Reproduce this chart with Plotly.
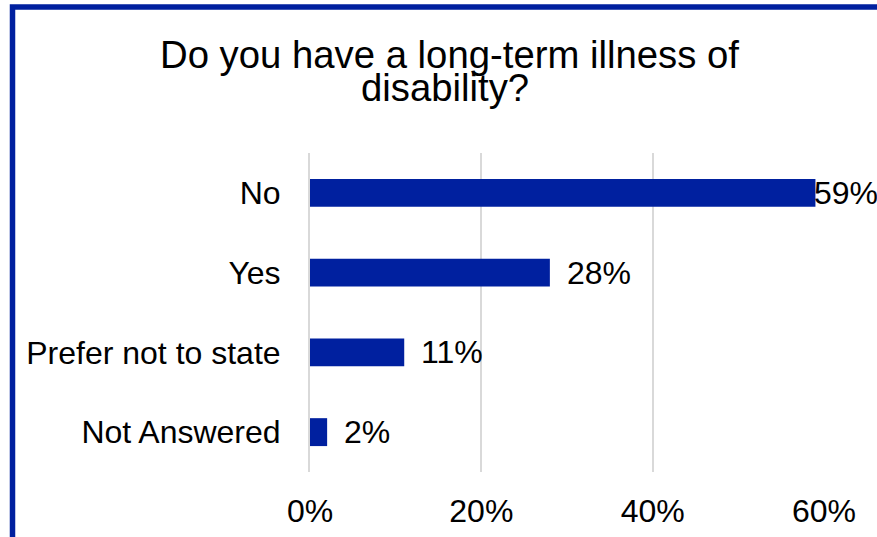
import plotly.graph_objects as go

categories = ["No", "Yes", "Prefer not to state", "Not Answered"]
values = [0.59, 0.28, 0.11, 0.02]
value_labels = ["59%", "28%", "11%", "2%"]
x_ticks = [0, 0.2, 0.4, 0.6]
x_tick_labels = ["0%", "20%", "40%", "60%"]
title_lines = ["Do you have a long-term illness of", "disability?"]

W, H = 877, 537
ML, MR, MT, MB = 310, 53, 153, 65
PW, PH = W - ML - MR, H - MT - MB
BLUE = "#00209F"
FONT = "Liberation Sans, Arial, sans-serif"

fig = go.Figure()
fig.add_trace(go.Bar(
    x=values, y=categories, orientation="h",
    marker=dict(color=BLUE, line=dict(width=0)),
    width=0.35, hoverinfo="skip",
))

for v, c, lab in zip(values, categories, value_labels):
    fig.add_annotation(x=v, y=c, xref="x", yref="y", text=lab, showarrow=False,
                       xanchor="left", yanchor="middle",
                       xshift=(-3 if v > 0.55 else 15),
                       font=dict(family=FONT, size=32, color="#000000"))

def px_x(p):
    return (p - ML) / PW

def px_y(p):
    return (H - MB - p) / PH

fig.add_annotation(x=px_x(449.5), y=px_y(54), xref="paper", yref="paper",
                   text=title_lines[0], showarrow=False, xanchor="center", yanchor="middle",
                   font=dict(family=FONT, size=38.3, color="#000000"))
fig.add_annotation(x=px_x(445), y=px_y(88), xref="paper", yref="paper",
                   text=title_lines[1], showarrow=False, xanchor="center", yanchor="middle",
                   font=dict(family=FONT, size=38.3, color="#000000"))

# chart border (partially outside visible window)
fig.add_shape(type="rect", xref="paper", yref="paper",
              x0=px_x(12.5), y0=px_y(700), x1=px_x(1200), y1=px_y(7),
              line=dict(color=BLUE, width=5.5), fillcolor="rgba(0,0,0,0)", layer="above")

fig.update_layout(
    width=W, height=H,
    margin=dict(l=ML, r=MR, t=MT, b=MB, autoexpand=False),
    paper_bgcolor="white", plot_bgcolor="white",
    showlegend=False,
    font=dict(family=FONT, size=32, color="#000000"),
)
fig.update_xaxes(range=[0, 0.6], tickvals=x_ticks, ticktext=x_tick_labels,
                 showgrid=True, gridcolor="#D9D9D9", gridwidth=2,
                 zeroline=False, showline=False, ticks="", ticklabelstandoff=17,
                 automargin=False,
                 tickfont=dict(family=FONT, size=32, color="#000000"))
fig.update_yaxes(autorange="reversed", showgrid=False, zeroline=False,
                 showline=True, linecolor="#D9D9D9", linewidth=2,
                 ticks="", ticklabelstandoff=21, automargin=False,
                 tickfont=dict(family=FONT, size=32, color="#000000"))

fig.write_html(
    "out.html",
    config={"displayModeBar": False, "staticPlot": True},
    post_script="document.body.style.margin='0';document.body.style.overflow='hidden';",
)
